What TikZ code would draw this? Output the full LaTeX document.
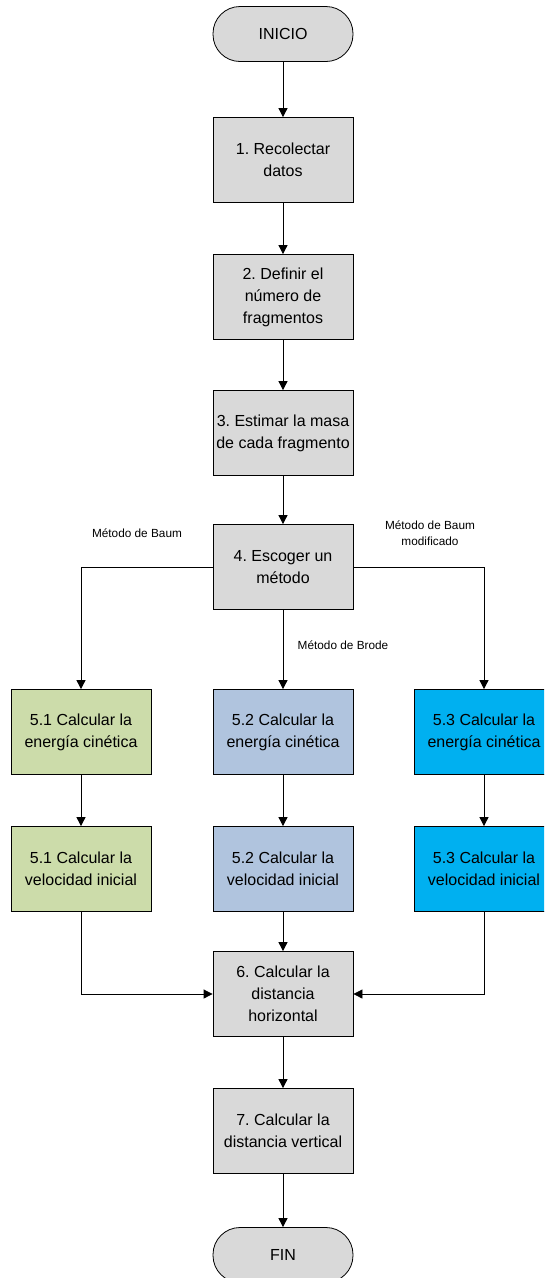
\documentclass[tikz,border=0pt]{standalone}
\usepackage{fontspec}
\setmainfont{Liberation Sans}
\frenchspacing
\usetikzlibrary{arrows.meta}
\definecolor{boxgray}{RGB}{217,217,217}
\definecolor{boxgreen}{RGB}{204,220,170}
\definecolor{boxsteel}{RGB}{176,196,222}
\definecolor{boxcyan}{RGB}{0,176,240}
\tikzset{
  stepbox/.style={draw=black, line width=0.8pt, fill=boxgray, minimum width=140pt, minimum height=85pt,
    align=center, inner sep=0pt, font=\fontsize{16}{22}\selectfont},
  termbox/.style={draw=black, line width=0.8pt, fill=boxgray, minimum width=140pt, minimum height=55pt,
    rounded corners=27pt, align=center, inner sep=0pt, font=\fontsize{16}{22}\selectfont},
  lbl/.style={align=center, inner sep=0pt, font=\fontsize{11.8}{16}\selectfont},
  conn/.style={draw=black, line width=0.8pt, -{Triangle[length=9pt,width=9pt]}},
}
\begin{document}
\begin{tikzpicture}[x=1pt,y=-1pt]
\clip (0,0) rectangle (544,1278);
\useasboundingbox (0,0) rectangle (544,1278);
\fill[white] (0,0) rectangle (544,1278);

\node[termbox] (ini) at (283,34) {INICIO};
\node[stepbox] (b1) at (283,160) {1. Recolectar\\datos};
\node[stepbox] (b2) at (283,297) {2. Definir el\\número de\\fragmentos};
\node[stepbox] (b3) at (283,433) {3. Estimar la masa\\de cada fragmento};
\node[stepbox] (b4) at (283,567) {4. Escoger un\\método};
\node[stepbox, fill=boxgreen] (e1) at (81,732) {5.1 Calcular la\\energía cinética};
\node[stepbox, fill=boxsteel] (e2) at (283,732) {5.2 Calcular la\\energía cinética};
\node[stepbox, fill=boxcyan] (e3) at (484,732) {5.3 Calcular la\\energía cinética};
\node[stepbox, fill=boxgreen] (v1) at (81,869) {5.1 Calcular la\\velocidad inicial};
\node[stepbox, fill=boxsteel] (v2) at (283,869) {5.2 Calcular la\\velocidad inicial};
\node[stepbox, fill=boxcyan] (v3) at (484,869) {5.3 Calcular la\\velocidad inicial};
\node[stepbox] (b6) at (283,994) {6. Calcular la\\distancia\\horizontal};
\node[stepbox] (b7) at (283,1131) {7. Calcular la\\distancia vertical};
\node[termbox] (fin) at (283,1255) {FIN};

\node[lbl] (l1) at (137,533) {Método de Baum};
\node[lbl] (l3) at (430,533) {Método de Baum\\modificado};
\node[lbl] (l2) at (343,645) {Método de Brode};

\draw[conn] (ini) -- (b1);
\draw[conn] (b1) -- (b2);
\draw[conn] (b2) -- (b3);
\draw[conn] (b3) -- (b4);
\draw[conn] (b4.west) -| (e1.north);
\draw[conn] (b4) -- (e2);
\draw[conn] (b4.east) -| (e3.north);
\draw[conn] (e1) -- (v1);
\draw[conn] (e2) -- (v2);
\draw[conn] (e3) -- (v3);
\draw[conn] (v1.south) |- (b6.west);
\draw[conn] (v2) -- (b6);
\draw[conn] (v3.south) |- (b6.east);
\draw[conn] (b6) -- (b7);
\draw[conn] (b7) -- (fin);
\end{tikzpicture}
\end{document}
